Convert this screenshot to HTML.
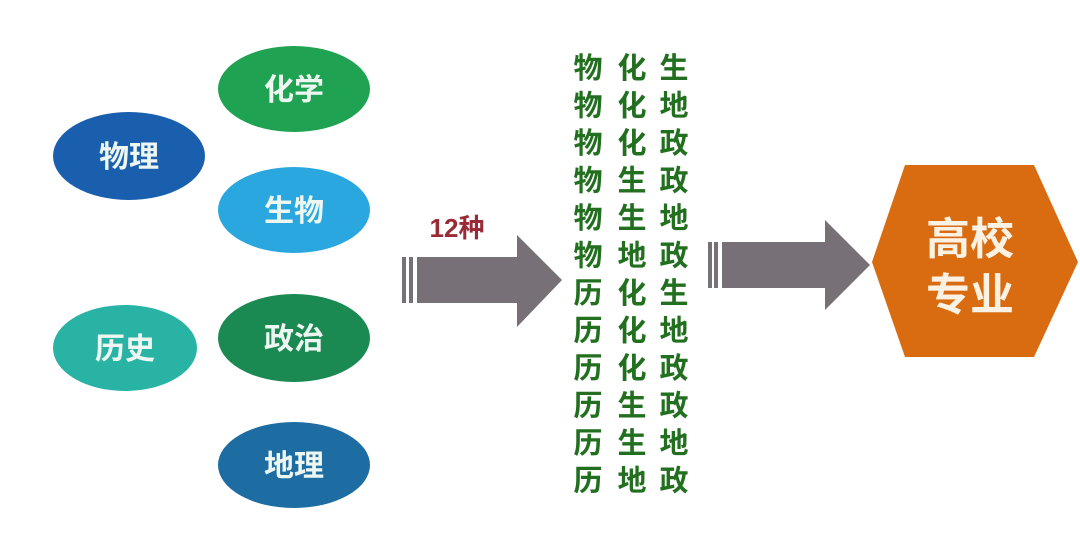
<!DOCTYPE html>
<html><head><meta charset="utf-8"><style>
body{margin:0;background:#fff;width:1080px;height:529px;overflow:hidden}
svg text{font-family:"Liberation Sans","Noto Sans CJK SC",sans-serif;font-weight:bold}
</style></head><body>
<svg width="1080" height="529" viewBox="0 0 1080 529" xmlns="http://www.w3.org/2000/svg">
<g font-size="30" fill="#eef6f2" text-anchor="middle">
<ellipse cx="129" cy="156" rx="76" ry="44" fill="#1a5fae"/>
<text x="129" y="167">物理</text>
<ellipse cx="294" cy="89" rx="76" ry="43" fill="#1fa352"/>
<text x="294" y="100">化学</text>
<ellipse cx="294" cy="210" rx="76" ry="43" fill="#2aa7df"/>
<text x="294" y="221">生物</text>
<ellipse cx="125" cy="348" rx="72" ry="43" fill="#28b3a5"/>
<text x="125" y="359">历史</text>
<ellipse cx="294" cy="338" rx="76" ry="44" fill="#1b8a52"/>
<text x="294" y="349">政治</text>
<ellipse cx="294" cy="465" rx="76" ry="43" fill="#1d6da3"/>
<text x="294" y="476">地理</text>
</g>
<text x="457" y="237" font-size="26" fill="#9a2a38" text-anchor="middle">12种</text>
<g fill="#777077">
<rect x="402" y="257" width="4" height="46"/>
<rect x="409" y="257" width="4" height="46"/>
<polygon points="417,257 517,257 517,235 562,280 517,327 517,303 417,303"/>
<rect x="708" y="242" width="4" height="46"/>
<rect x="714" y="242" width="4" height="46"/>
<polygon points="722,242 825,242 825,220 870,265 825,310 825,288 722,288"/>
</g>
<polygon points="872,262 905,165 1034,165 1078,262 1034,357 905,357" fill="#d96c10"/>
<g font-size="44" fill="#fbf2e4" text-anchor="middle">
<text x="970" y="254">高校</text>
<text x="970" y="310">专业</text>
</g>
<g font-size="29" fill="#22701f" text-anchor="middle">
<text y="78"><tspan x="588">物</tspan><tspan x="632">化</tspan><tspan x="674">生</tspan></text>
<text y="115.5"><tspan x="588">物</tspan><tspan x="632">化</tspan><tspan x="674">地</tspan></text>
<text y="153"><tspan x="588">物</tspan><tspan x="632">化</tspan><tspan x="674">政</tspan></text>
<text y="190.5"><tspan x="588">物</tspan><tspan x="632">生</tspan><tspan x="674">政</tspan></text>
<text y="228"><tspan x="588">物</tspan><tspan x="632">生</tspan><tspan x="674">地</tspan></text>
<text y="265.5"><tspan x="588">物</tspan><tspan x="632">地</tspan><tspan x="674">政</tspan></text>
<text y="303"><tspan x="588">历</tspan><tspan x="632">化</tspan><tspan x="674">生</tspan></text>
<text y="340.5"><tspan x="588">历</tspan><tspan x="632">化</tspan><tspan x="674">地</tspan></text>
<text y="378"><tspan x="588">历</tspan><tspan x="632">化</tspan><tspan x="674">政</tspan></text>
<text y="415.5"><tspan x="588">历</tspan><tspan x="632">生</tspan><tspan x="674">政</tspan></text>
<text y="453"><tspan x="588">历</tspan><tspan x="632">生</tspan><tspan x="674">地</tspan></text>
<text y="490.5"><tspan x="588">历</tspan><tspan x="632">地</tspan><tspan x="674">政</tspan></text>
</g>
</svg>
</body></html>
